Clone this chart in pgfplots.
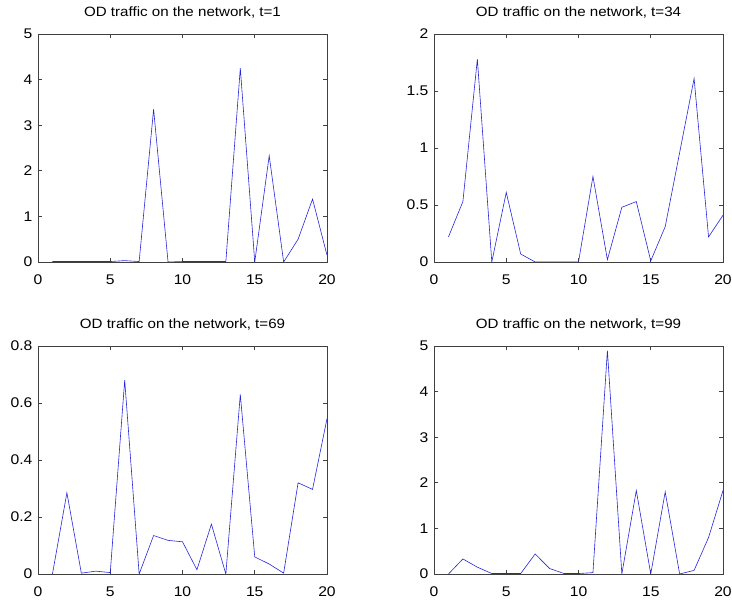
\documentclass[border=0pt]{standalone}
\usepackage{fontspec}
\setmainfont{Liberation Sans}[FakeStretch=1.12]
\usepackage{pgfplots}
\pgfplotsset{compat=1.18}

% MATLAB-like panel style
\pgfplotsset{
  odpanel/.style={
    scale only axis,
    width=289pt, height=228pt,
    anchor=south west,
    xmin=0, xmax=20,
    ymin=0,
    xtick={0,5,10,15,20},
    tick align=inside,
    major tick length=4pt,
    axis line style={black!75, line width=0.6pt},
    every tick/.style={black!75, line width=0.6pt},
    tick label style={font=\fontsize{14}{16}\selectfont},
    /pgf/number format/assume math mode=true,
    title style={font=\fontsize{13.5}{15}\selectfont, at={(0.5,1)}, anchor=south, yshift=6pt},
    xticklabel style={anchor=north, yshift=-9pt},
    yticklabel style={xshift=-2pt},
    scaled ticks=false,
    clip=true,
  },
  odline/.style={color={rgb,1:red,0.15;green,0.15;blue,0.85}, line width=0.6pt, mark=none},
}

\begin{document}
\begin{tikzpicture}[x=1pt,y=1pt]
\useasboundingbox (0,0) rectangle (732,600);

% t = 1
\begin{axis}[odpanel, at={(38pt,338pt)}, ymax=5, ytick={0,1,2,3,4,5},
  title={OD traffic on the network, t=1}]
  \addplot[odline] coordinates {
    (1,0.01) (2,0.01) (3,0.01) (4,0.01) (5,0.01) (6,0.03) (7,0.01)
    (8,3.35) (9,0.0) (10,0.01) (11,0.01) (12,0.01) (13,0.01) (14,4.25)
    (15,0.0) (16,2.33) (17,0.0) (18,0.5) (19,1.38) (20,0.15)
  };
\end{axis}

% t = 34
\begin{axis}[odpanel, at={(434pt,338pt)}, ymax=2, ytick={0,0.5,1,1.5,2},
  yticklabels={0,0.5,1,1.5,2},
  title={OD traffic on the network, t=34}]
  \addplot[odline] coordinates {
    (1,0.22) (2,0.53) (3,1.78) (4,0.0) (5,0.61) (6,0.07) (7,0.0)
    (8,0.0) (9,0.0) (10,0.0) (11,0.75) (12,0.02) (13,0.48) (14,0.53)
    (15,0.01) (16,0.31) (17,0.96) (18,1.61) (19,0.22) (20,0.41)
  };
\end{axis}

% t = 69
\begin{axis}[odpanel, at={(38pt,26pt)}, ymax=0.8, ytick={0,0.2,0.4,0.6,0.8},
  yticklabels={0,0.2,0.4,0.6,0.8},
  title={OD traffic on the network, t=69}]
  \addplot[odline] coordinates {
    (1,0.0) (2,0.285) (3,0.003) (4,0.01) (5,0.005) (6,0.68) (7,0.0)
    (8,0.135) (9,0.118) (10,0.113) (11,0.015) (12,0.175) (13,0.0) (14,0.63)
    (15,0.06) (16,0.035) (17,0.003) (18,0.32) (19,0.297) (20,0.545)
  };
\end{axis}

% t = 99
\begin{axis}[odpanel, at={(434pt,26pt)}, ymax=5, ytick={0,1,2,3,4,5},
  title={OD traffic on the network, t=99}]
  \addplot[odline] coordinates {
    (1,0.0) (2,0.33) (3,0.15) (4,0.01) (5,0.01) (6,0.01) (7,0.44)
    (8,0.12) (9,0.01) (10,0.01) (11,0.03) (12,4.9) (13,0.0) (14,1.83)
    (15,0.0) (16,1.8) (17,0.0) (18,0.08) (19,0.8) (20,1.83)
  };
\end{axis}

\end{tikzpicture}
\end{document}
